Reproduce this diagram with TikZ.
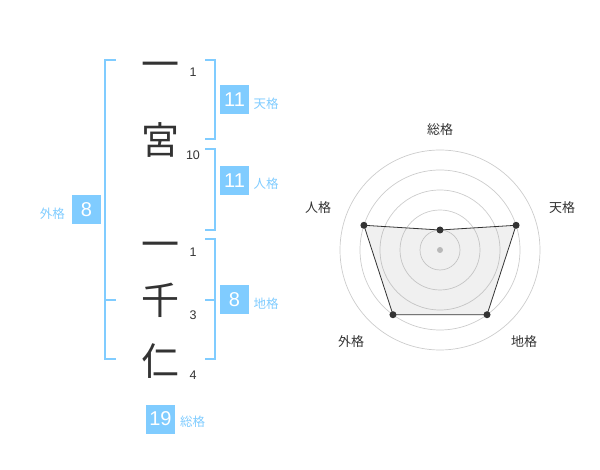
\documentclass[tikz,border=0pt]{standalone}
\usepackage{fontspec}
\setmainfont{Liberation Sans}
\newfontfamily\cjk{Noto Sans CJK JP}
\usetikzlibrary{calc,positioning}
\definecolor{kakublue}{HTML}{80CCFF}
\definecolor{inkgray}{HTML}{333333}
\tikzset{kbar/.style={
  draw=kakublue,
  line width=2}}
\tikzset{kbox/.style={
  fill=kakublue,
  text=white,
  minimum size=29,
  inner sep=0pt,
  font=\fontsize{20}{20}\selectfont}}
\tikzset{klabel/.style={
  text=kakublue,
  inner sep=0pt,
  font=\cjk\fontsize{12.5}{12.5}\selectfont}}
\tikzset{kchar/.style={
  text=inkgray,
  inner sep=0pt,
  anchor=base,
  font=\cjk\fontsize{38}{38}\selectfont}}
\tikzset{kstroke/.style={
  text=inkgray,
  inner sep=0pt,
  font=\fontsize{12.5}{12.5}\selectfont}}

\begin{document}
\begin{tikzpicture}[
  x=1pt,y=-1pt,
  rdot/.style={
    circle,
    fill=inkgray,
    inner sep=0pt,
    minimum size=7},
  rname/.style={
    text=inkgray,
    inner sep=0pt,
    font=\cjk\fontsize{13}{13}\selectfont}
]
  \useasboundingbox (0,0) rectangle (600,470);

  %%%% Name characters and stroke counts %%%%
  %% char / row / stroke count / glyph drop
  \foreach \ch/\y/\n/\d [count=\i] in {一/58/1/6,宮/140/10/0,一/238/1/6,千/300/3/0,仁/361/4/0}{
    \node[kchar] (c\i) at (160,\y+14.4+\d) {\ch};
    \node[kstroke] (n\i) at (193,\y+14.7) {\n};
  }

  %% Left bracket
  \draw[kbar] (115.7,60) -- (105,60) -- (105,359) -- (115.7,359);
  \draw[kbar] (105,300) -- (115.7,300);
  %% Right brackets
  \draw[kbar] (205,60) -- (215,60) -- (215,139) -- (205,139);
  \draw[kbar] (205,149) -- (215,149) -- (215,230) -- (205,230);
  \draw[kbar] (205,239) -- (215,239) -- (215,359) -- (205,359);
  \draw[kbar] (205,300) -- (215,300);

  %% Boxes with their labels
  \node[kbox] (ten) at (234.5,100) {11};
  \node[klabel,anchor=west] (tenl) at (253.5,103.5) {天格};
  \node[kbox] (jin) at (234.5,180.5) {11};
  \node[klabel,anchor=west] (jinl) at (253.5,184) {人格};
  \node[kbox] (chi) at (234.5,300) {8};
  \node[klabel,anchor=west] (chil) at (253.5,303.5) {地格};
  \node[kbox] (gai) at (86.5,210) {8};
  \node[klabel,anchor=east] (gail) at (65,213.5) {外格};
  \node[kbox] (sou) at (160.5,419) {19};
  \node[klabel,anchor=west] (soul) at (180,422) {総格};

  %%%% Radar chart %%%%
  \coordinate (ctr) at (440,250);
  \foreach \r in {20,40,...,100}{
    \draw[black!20,line width=.7] (ctr) circle (\r pt);
  }
  \fill[black!25] (ctr) circle (3pt);

  %% Data points
  \coordinate (psou) at ($(ctr)+(90:20pt)$);
  \coordinate (pten) at ($(ctr)+(18:80pt)$);
  \coordinate (pchi) at ($(ctr)+(-54:80pt)$);
  \coordinate (pgai) at ($(ctr)+(-126:80pt)$);
  \coordinate (pjin) at ($(ctr)+(162:80pt)$);
  \draw[black!80,fill=black!40,fill opacity=.15,line width=.8]
    (psou) -- (pten) -- (pchi) -- (pgai) -- (pjin) -- cycle;
  \foreach \p in {psou,pten,pchi,pgai,pjin}{
    \node[rdot] at (\p) {};
  }

  %% Axis names
  \node[rname] (rsou) at (440,130) {総格};
  \node[rname] (rten) at (562,208) {天格};
  \node[rname] (rjin) at (318,208) {人格};
  \node[rname] (rgai) at (351,342) {外格};
  \node[rname] (rchi) at (524,342) {地格};

\end{tikzpicture}
\end{document}
